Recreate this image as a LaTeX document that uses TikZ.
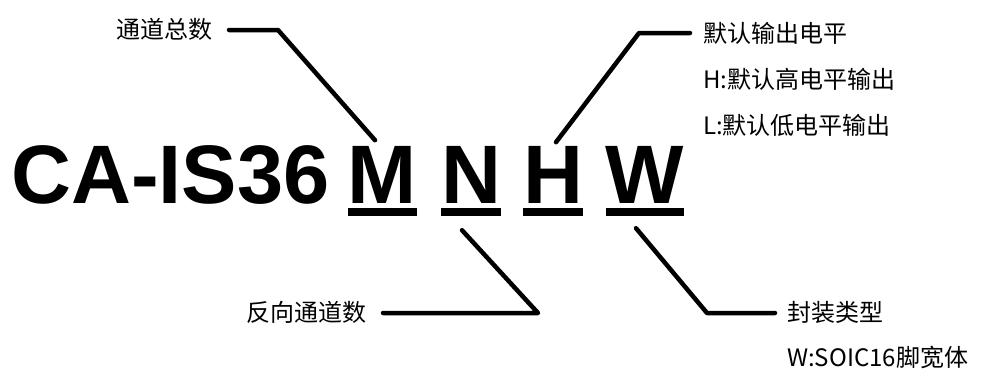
\documentclass[tikz,border=0pt]{standalone}
\usepackage{fontspec}
\setmainfont{Noto Sans CJK SC}
\newfontfamily\partfont{Liberation Sans}
\usetikzlibrary{positioning}

\begin{document}
\begin{tikzpicture}[x=1pt,y=-1pt,
leader/.style={line width=4.5pt,line cap=round,line join=round},
uline/.style={line width=8pt},
part/.style={inner sep=0pt,anchor=base,font=\partfont\bfseries\fontsize{83}{90}\selectfont},
lbl/.style={inner sep=0pt,font=\fontsize{24}{28}\selectfont}]
        \useasboundingbox (0,0) rectangle (982,373);
        % part number
        \node [part,anchor=base west] (pre) at (11,203) {CA-IS36};
        \node [part] (M) at (382.5,203) {M};
        \node [part] (N) at (471,203) {N};
        \node [part] (H) at (553,203) {H};
        \node [part] (W) at (645,203) {W};
        \draw [uline] ([yshift=-9pt]M.south west) -- ([yshift=-9pt]M.south east);
        \draw [uline] ([yshift=-9pt]N.south west) -- ([yshift=-9pt]N.south east);
        \draw [uline] ([yshift=-9pt]H.south west) -- ([yshift=-9pt]H.south east);
        \draw [uline] ([yshift=-9pt]W.south west) -- ([yshift=-9pt]W.south east);
        % labels
        \node [lbl,anchor=east] (total) at (213,29) {通道总数};
        \node [lbl,anchor=west] (level) at (703,33) {默认输出电平};
        \node [lbl,below=24pt of level.south west,anchor=north west] (high) {H:默认高电平输出};
        \node [lbl,below=23pt of high.south west,anchor=north west] (low) {L:默认低电平输出};
        \node [lbl,anchor=east] (rev) at (367,312) {反向通道数};
        \node [lbl,anchor=west] (pkg) at (787,312) {封装类型};
        \node [lbl,below=23pt of pkg.south west,anchor=north west] (wide) {W:SOIC16脚宽体};
        % leaders
        \coordinate (k1) at (278,30);
        \coordinate (k2) at (639,33);
        \coordinate (k3) at (538,313);
        \coordinate (k4) at (707,313);
        \draw [leader] ([xshift=16pt,yshift=-1pt]total.east) -- (k1) -- ([xshift=-7.5pt,yshift=5.5pt]M.north);
        \draw [leader] ([xshift=3pt,yshift=3.5pt]H.north) -- (k2) -- ([xshift=-13pt]level.west);
        \draw [leader] ([xshift=-9pt,yshift=-27pt]N.south) -- (k3) -- ([xshift=16pt,yshift=-1pt]rev.east);
        \draw [leader] ([xshift=-9pt,yshift=-25pt]W.south) -- (k4) -- ([xshift=-12pt,yshift=-1pt]pkg.west);
    \end{tikzpicture}
\end{document}
